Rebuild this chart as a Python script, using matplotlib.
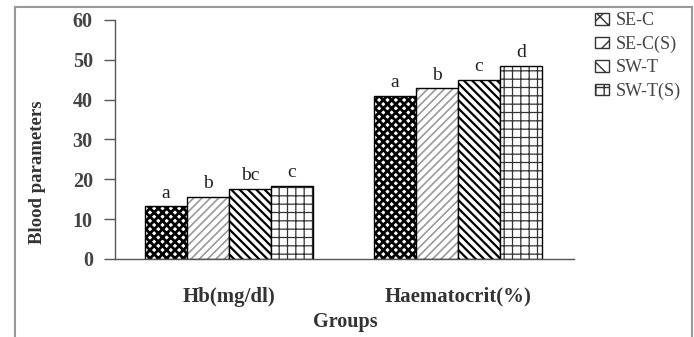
import matplotlib
matplotlib.use("Agg")
import matplotlib.pyplot as plt
from matplotlib.lines import Line2D
import numpy as np

plt.rcParams['font.family'] = ['Liberation Serif', 'DejaVu Serif']

groups = ["Hb(mg/dl)", "Haematocrit(%)"]
series = ["SE-C", "SE-C(S)", "SW-T", "SW-T(S)"]
values = {
    "SE-C": [13.2, 41.0],
    "SE-C(S)": [15.5, 42.8],
    "SW-T": [17.5, 45.0],
    "SW-T(S)": [18.3, 48.5],
}
letters = {
    "SE-C": ["a", "a"],
    "SE-C(S)": ["b", "b"],
    "SW-T": ["bc", "c"],
    "SW-T(S)": ["c", "d"],
}
hatches = {"SE-C": "xxxx", "SE-C(S)": "////", "SW-T": "\\\\\\\\", "SW-T(S)": "++"}
hatch_colors = {"SE-C": "black", "SE-C(S)": "#9a9a9a", "SW-T": "black", "SW-T(S)": "#333333"}
hatch_widths = {"SE-C": 2.0, "SE-C(S)": 1.2, "SW-T": 1.6, "SW-T(S)": 0.9}

fig = plt.figure(figsize=(6.94, 3.37), dpi=100)
ax = fig.add_axes([0.1657, 0.2315, 0.6613, 0.7092])

x = np.arange(len(groups))
w = 0.183
handles = []
for i, s in enumerate(series):
    pos = x + (i - 1.5) * w
    with plt.rc_context({'hatch.linewidth': hatch_widths[s]}):
        ax.bar(pos, values[s], w, color="white", edgecolor=hatch_colors[s],
               hatch=hatches[s], linewidth=0)
    ax.bar(pos, values[s], w, fill=False, edgecolor="black", linewidth=1.0)
    for px, v, t in zip(pos, values[s], letters[s]):
        ax.text(px, v + 1.2, t, ha="center", va="bottom", fontsize=14, color="#222222")
    with plt.rc_context({'hatch.linewidth': 1.2}):
        handles.append(plt.Rectangle((0, 0), 1, 1, facecolor="white", edgecolor="#333333",
                                     hatch=hatches[s][:2], linewidth=1.0))

ax.set_xlim(-0.498, 1.507)
ax.set_ylim(0, 60)
ax.set_yticks(range(0, 61, 10))
ax.set_xticks(x)
ax.set_xticklabels(groups, fontweight="bold", fontsize=15)
ax.tick_params(axis="x", length=0, pad=20)
ax.tick_params(axis="y", length=8, width=1, color="#555555", pad=8, labelsize=14.5)
for lab in ax.get_yticklabels():
    lab.set_fontweight("bold")
    lab.set_color("#444444")
for lab in ax.get_xticklabels():
    lab.set_color("#333333")
for sp in ["top", "right"]:
    ax.spines[sp].set_visible(False)
for sp in ["left", "bottom"]:
    ax.spines[sp].set_color("#555555")
    ax.spines[sp].set_linewidth(1.0)

ax.set_ylabel("Blood parameters", fontweight="bold", fontsize=13.5, color="#333333")
ax.yaxis.set_label_coords(-0.150, 0.364)
fig.text(0.497, 0.045, "Groups", ha="center", va="center", fontweight="bold",
         fontsize=14.5, color="#333333")

fig.legend(handles, series, loc="upper left", bbox_to_anchor=(0.834, 1.012),
           frameon=False, fontsize=13, handlelength=0.75, handleheight=0.6,
           handletextpad=0.4, labelspacing=0.35, labelcolor="#444444")

# outer frame of the figure panel (no bottom edge)
frame_pts = [((15, 337), (15, 7)), ((15, 7), (692, 7)), ((692, 7), (692, 337))]
for (x0, y0), (x1, y1) in frame_pts:
    fig.add_artist(Line2D([x0 / 694, x1 / 694], [1 - y0 / 337, 1 - y1 / 337],
                          color="#999999", linewidth=1.5, transform=fig.transFigure))

fig.savefig("out.png", dpi=100)
